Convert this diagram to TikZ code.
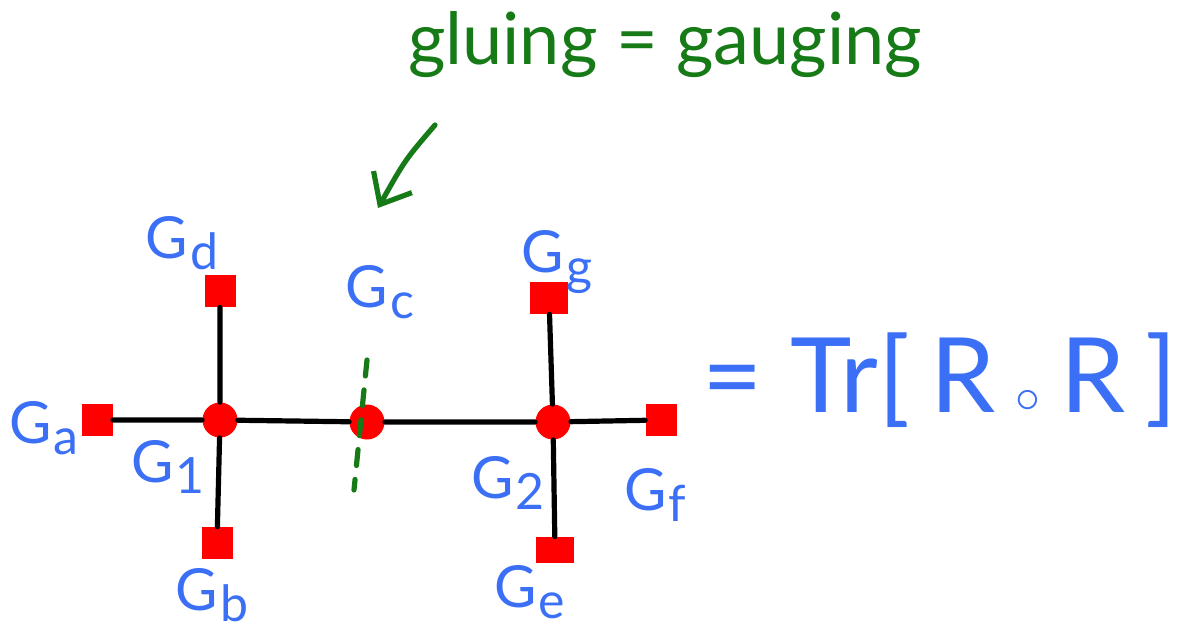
\documentclass[tikz,border=0pt]{standalone}
\usepackage{fontspec}
\setmainfont{Lato}
\usetikzlibrary{arrows.meta}

\definecolor{inkblue}{RGB}{59,111,246}
\definecolor{inkgreen}{RGB}{22,122,22}
\definecolor{inkred}{RGB}{255,0,0}

% G with a lowered index, as in the labels
\newcommand{\glab}[1]{G\kern1pt\raisebox{-0.2em}{\fontsize{25}{25}\selectfont #1}}

\begin{document}
\begin{tikzpicture}[
  x=0.5pt,
  y=-0.5pt,
  line cap=round,
  line join=round,
  vertex/.style={circle, fill=inkred, minimum size=17.5pt, inner sep=0pt},
  leg/.style={rectangle, fill=inkred, minimum width=15.5pt, minimum height=16pt, inner sep=0pt},
  lab/.style={text=inkblue, font=\fontsize{29}{30}\selectfont, inner sep=0pt},
  bond/.style={line width=2.6pt, black},
  glue/.style={line width=2.6pt, inkgreen}
]
  \useasboundingbox (0,0) rectangle (1178,632);

  % Gluing = gauging
  \node[text=inkgreen, font=\fontsize{36}{38}\selectfont, anchor=base] (title) at (665,64) {gluing = gauging};
  \coordinate (arrowstart) at (435,125);
  \coordinate (arrowend) at (378,208);
  \draw[glue, -{Straight Barb[length=13pt, width=22pt, line width=2.6pt]}]
    (arrowstart) .. controls (405,160) .. (arrowend);

  % Vertices on the chain
  \node[vertex] (v1) at (220,420) {};
  \node[vertex] (vc) at (367,422) {};
  \node[vertex] (v2) at (553,422) {};

  % Boundary legs
  \node[leg] (ga) at (97,420) {};
  \node[leg] (gd) at (220,291) {};
  \node[leg] (gb) at (217,543) {};
  \node[leg, minimum width=19pt] (gg) at (549,298) {};
  \node[leg] (gf) at (661,420) {};
  \node[leg, minimum width=19pt, minimum height=13pt] (ge) at (555,550) {};

  % Bonds
  \draw[bond] (ga) -- (v1) -- (vc) -- (v2) -- (gf);
  \draw[bond] (gd) -- (v1) -- (gb);
  \draw[bond] (gg) -- (v2) -- (ge);

  % Cut through the middle vertex
  \coordinate (cuttop) at (367,360);
  \coordinate (cutbottom) at (354,490);
  \draw[glue, dash pattern=on 8pt off 7pt] (cuttop) -- (cutbottom);

  % Labels
  \node[lab] (la) at (44,428) {\glab{a}};
  \node[lab] (ld) at (182,243) {\glab{d}};
  \node[lab] (lc) at (380,292) {\glab{c}};
  \node[lab] (lg) at (557,262) {\glab{g}};
  \node[lab] (lone) at (168,467) {\glab{1}};
  \node[lab] (lb) at (212,595) {\glab{b}};
  \node[lab] (ltwo) at (508,483) {\glab{2}};
  \node[lab] (lf) at (655,495) {\glab{f}};
  \node[lab] (le) at (530,592) {\glab{e}};

  % Result
  \node[text=inkblue, font=\fontsize{52}{54}\selectfont, anchor=base, inner sep=0pt] (result) at (940,412)
    {=\hspace{14pt}Tr[\hspace{10pt}R\hspace{10pt}$\circ$\hspace{10pt}R\hspace{10pt}]};
\end{tikzpicture}
\end{document}
